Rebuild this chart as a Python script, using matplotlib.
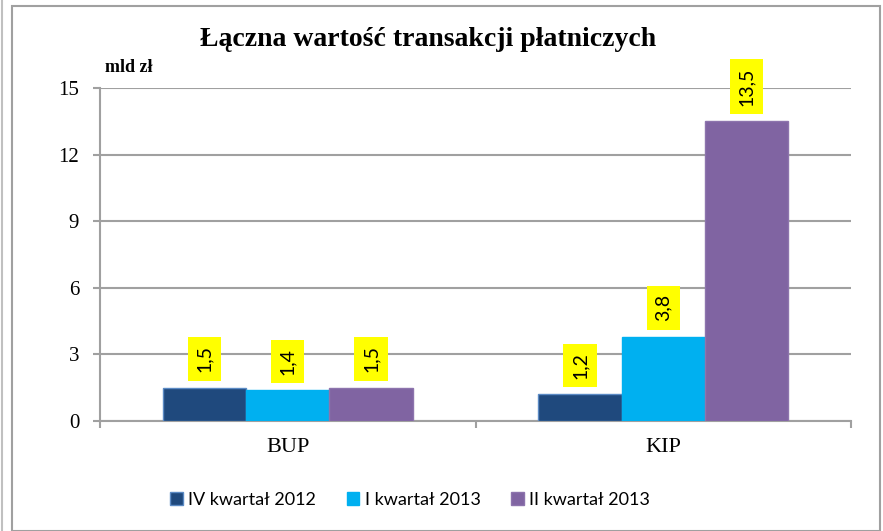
import numpy as np
import matplotlib.pyplot as plt
from matplotlib.patches import Rectangle
from matplotlib.lines import Line2D

# ---------------------------
# Data
# ---------------------------
categories = ["BUP", "KIP"]
series_names = ["IV kwartał 2012", "I kwartał 2013", "II kwartał 2013"]
q4_2012 = [1.5, 1.2]
q1_2013 = [1.4, 3.8]
q2_2013 = [1.5, 13.5]
y_ticks = [0, 3, 6, 9, 12, 15]

colors = ["#1F497D", "#00B0F0", "#8064A2"]
edges = ["#5b8ac4", "#00B0F0", "#8d74ad"]

serif = "Liberation Serif"
sans = "Lato"

# ---------------------------
# Figure
# ---------------------------
fig = plt.figure(figsize=(8.83, 5.31), dpi=100)
W, H = 883, 531

# outer frame
fig.patches.append(Rectangle((12 / W, 0), (880 - 12) / W, (531 - 6) / H,
                             transform=fig.transFigure, fill=False,
                             edgecolor="#a0a0a0", linewidth=1.5, zorder=0))
fig.lines.append(Line2D([2 / W, 2 / W], [0, 1], transform=fig.transFigure,
                        color="#c0c0c0", linewidth=1.5))

ax = fig.add_axes([100 / W, 1 - 421 / H, (851 - 100) / W, (421 - 88) / H])

x = np.arange(len(categories))
width = 0.222
all_series = [q4_2012, q1_2013, q2_2013]
for i, vals in enumerate(all_series):
    pos = x + (i - 1) * width
    ax.bar(pos, vals, width, color=colors[i], edgecolor=edges[i],
           linewidth=1, label=series_names[i], zorder=3)
    for px, v in zip(pos, vals):
        ax.annotate(f"{v:.1f}".replace(".", ","), (px, v),
                    xytext=(0, 11), textcoords="offset points",
                    ha="center", va="bottom", rotation=90,
                    fontsize=14, family=sans, zorder=4,
                    bbox=dict(boxstyle="square,pad=0.42", facecolor="#FFFF00",
                              edgecolor="none"))

ax.set_xlim(-0.5, 1.5)
ax.set_ylim(0, 15)
ax.set_yticks(y_ticks)
ax.set_yticklabels([str(t) for t in y_ticks], family=serif, fontsize=15)
ax.set_xticks(x)
ax.set_xticklabels(categories, family=serif, fontsize=16)
ax.set_xticks([-0.5, 0.5, 1.5], minor=True)
ax.tick_params(axis="x", which="major", length=0, pad=12)
ax.tick_params(axis="x", which="minor", length=5, width=1.5, color="#a0a0a0",
               direction="out")
ax.tick_params(axis="y", length=5, width=1.5, color="#a0a0a0", pad=10)

ax.grid(axis="y", color="#a0a0a0", linewidth=1.5, zorder=1)
ax.set_axisbelow(True)
for s in ["top", "right"]:
    ax.spines[s].set_visible(False)
for s in ["left", "bottom"]:
    ax.spines[s].set_color("#a0a0a0")
    ax.spines[s].set_linewidth(1.5)

fig.text(428 / W, 1 - 40 / H, "Łączna wartość transakcji płatniczych",
         family=serif, fontsize=20, fontweight="bold", ha="center", va="center")
fig.text(105 / W, 1 - 67 / H, "mld zł", family=serif, fontsize=13,
         fontweight="bold", ha="left", va="center")

fig.legend(loc="center", bbox_to_anchor=(410 / W, 1 - 500 / H), ncol=3,
           frameon=False, prop={"family": sans, "size": 13},
           handlelength=0.7, handleheight=0.7, handletextpad=0.3,
           columnspacing=1.7)

plt.savefig("out.png")
plt.close()
